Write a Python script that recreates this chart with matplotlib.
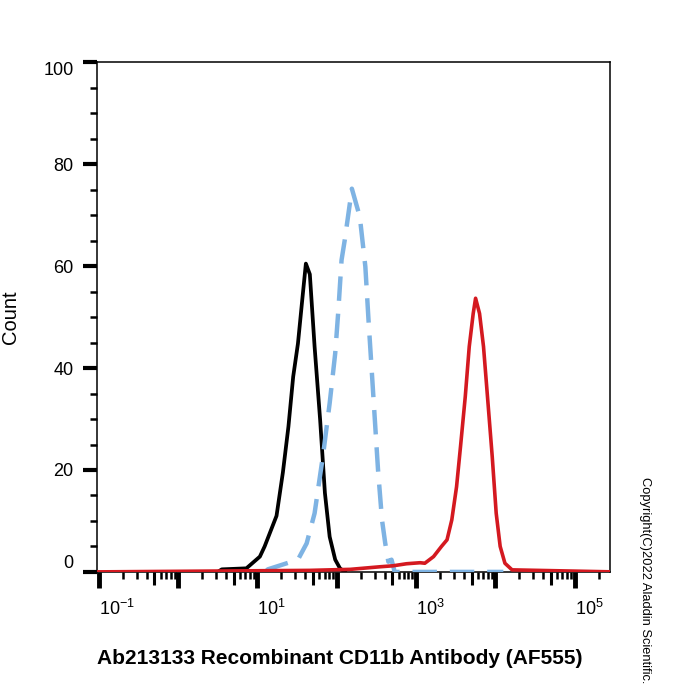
import numpy as np
import matplotlib
matplotlib.use("Agg")
import matplotlib.pyplot as plt
from matplotlib.ticker import FixedLocator, FuncFormatter, MultipleLocator, NullFormatter

plt.rcParams["font.family"] = ["Liberation Sans", "DejaVu Sans"]

# ---------- data (x as log10 of intensity, y as event count) ----------

black_log10 = [0.50, 0.55, 0.86, 1.03, 1.09, 1.24, 1.32, 1.39, 1.45, 1.51, 1.56,
               1.61, 1.66, 1.72, 1.79, 1.85, 1.91, 1.98, 2.04, 2.10]
black_count = [0.0, 0.5, 0.7, 3.0, 5.0, 11.0, 19.5, 28.5, 38.3, 44.8, 52.7,
               60.5, 58.4, 44.2, 29.8, 15.5, 6.9, 2.4, 0.7, 0.0]

blue_log10 = [1.10, 1.13, 1.51, 1.62, 1.72, 1.83, 1.91, 1.98, 2.02, 2.06, 2.10,
              2.17, 2.19, 2.29, 2.36, 2.40, 2.44, 2.48, 2.52, 2.57, 2.61, 2.65,
              2.69, 2.73, 4.10]
blue_count = [0.0, 0.5, 2.4, 5.6, 11.5, 23.3, 33.1, 42.9, 51.4, 61.2, 65.1,
              72.9, 75.2, 69.7, 59.9, 49.4, 39.6, 29.8, 20.0, 10.2, 5.7, 2.0,
              2.4, 0.0, 0.0]

red_log10 = [-1.05, 1.66, 2.17, 2.54, 2.71, 2.88, 3.05, 3.11, 3.22, 3.32, 3.39,
             3.45, 3.51, 3.56, 3.62, 3.67, 3.72, 3.75, 3.80, 3.85, 3.90, 3.96,
             4.01, 4.06, 4.12, 4.21, 5.50]
red_count = [0.0, 0.3, 0.5, 1.0, 1.2, 1.6, 1.8, 1.7, 3.0, 5.0, 6.3,
             10.2, 16.7, 24.6, 34.4, 44.2, 50.7, 53.7, 50.7, 44.2, 34.4, 22.6,
             11.5, 5.0, 1.7, 0.4, 0.0]

decades = [-1, 0, 1, 2, 3, 4, 5]
labelled_decades = [-1, 1, 3, 5]
y_ticks = [0, 20, 40, 60, 80, 100]

x_title = "Ab213133 Recombinant CD11b Antibody (AF555)"
y_title = "Count"
copyright_text = "Copyright(C)2022 Aladdin Scientific."

# ---------- figure ----------

fig = plt.figure(figsize=(7, 7), dpi=100)
ax = fig.add_axes([0.139, 0.183, 0.733, 0.728])

ax.plot(10 ** np.array(black_log10), black_count, color="black", lw=2.7,
        solid_joinstyle="round", zorder=3)
ax.plot(10 ** np.array(blue_log10), blue_count, color="#7eb3e3", lw=3.2,
        linestyle=(0, (5.5, 2.9)), zorder=4)
ax.plot(10 ** np.array(red_log10), red_count, color="#d41920", lw=2.6,
        solid_joinstyle="round", zorder=5)

ax.set_xscale("log")
ax.set_xlim(10 ** -1.02, 10 ** 5.45)
ax.set_ylim(0, 100)

ax.xaxis.set_major_locator(FixedLocator([10.0 ** d for d in decades]))
ax.xaxis.set_major_formatter(FuncFormatter(
    lambda v, pos: (r"$\mathregular{10^{%d}}$" % round(np.log10(v)))
    if round(np.log10(v)) in labelled_decades else ""))
ax.xaxis.set_minor_locator(matplotlib.ticker.LogLocator(
    base=10, subs=[2, 3, 4, 6, 7, 8, 9], numticks=20))
ax.xaxis.set_minor_formatter(NullFormatter())

# the "5" ticks of each decade are a bit longer
mid = ax.secondary_xaxis("bottom")
mid.xaxis.set_major_locator(FixedLocator([5 * 10.0 ** d for d in decades]))
mid.xaxis.set_major_formatter(NullFormatter())
mid.tick_params(which="major", direction="out", length=9, width=2.2)
mid.xaxis.set_minor_locator(matplotlib.ticker.NullLocator())
mid.spines["bottom"].set_visible(False)

ax.yaxis.set_major_locator(FixedLocator(y_ticks))
ax.yaxis.set_minor_locator(MultipleLocator(5))

ax.tick_params(axis="both", which="major", direction="out", length=10, width=3,
               labelsize=13, color="black")
ax.tick_params(axis="both", which="minor", direction="out", length=5, width=1.8)
ax.tick_params(axis="x", which="major", length=11.5, width=3.5, pad=8)
ax.tick_params(axis="y", which="major", pad=7)
ax.tick_params(top=False, right=False, which="both")

for lab in ax.get_xticklabels():
    lab.set_horizontalalignment("left")
ticks = ax.yaxis.get_major_ticks()
ticks[0].label1.set_verticalalignment("bottom")
ticks[-1].label1.set_verticalalignment("top")

for side in ["top", "right", "left", "bottom"]:
    ax.spines[side].set_linewidth(1.1)

ax.set_xlabel(x_title, fontsize=15, fontweight="bold", va="center")
ax.xaxis.set_label_coords(0.473, -0.169)
ax.set_ylabel(y_title, fontsize=14.5, va="center")
ax.yaxis.set_label_coords(-0.170, 0.5)

fig.text(0.921, 1 - 580 / 700, copyright_text, rotation=-90, fontsize=9.3,
         ha="center", va="center")

fig.savefig("out.png", dpi=100)
